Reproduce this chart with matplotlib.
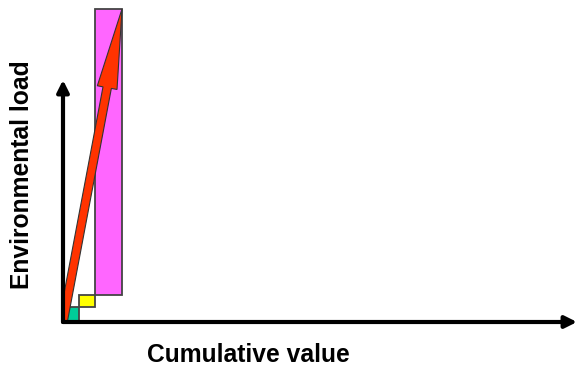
import matplotlib.pyplot as plt
from matplotlib.patches import Rectangle, FancyArrow

plt.rcParams['font.family'] = ['Liberation Sans', 'DejaVu Sans']

# stages: width = value added, height = environmental load added
stages = ['stage 1', 'stage 2', 'stage 3']
values = [16, 16, 27]
loads = [15, 12, 286]
colors = ['#00CC99', '#FFFF00', '#FF66FF']

fig = plt.figure(figsize=(5.77, 3.67), dpi=100)
ax = fig.add_axes([63 / 577, 45 / 367, 514 / 577, 322 / 367])
ax.set_xlim(0, 514)
ax.set_ylim(0, 322)
ax.axis('off')

x0, y0 = 0, 0
for v, l, c in zip(values, loads, colors):
    ax.add_patch(Rectangle((x0, y0), v, l, fc=c, ec='#444444', lw=1.3, zorder=2))
    x0 += v
    y0 += l

# cumulative arrow
ax.add_patch(FancyArrow(0, 0, x0, y0, width=8.5, head_width=20, head_length=80,
                        length_includes_head=True, fc='#FF3300', ec='#333333',
                        lw=0.8, zorder=3))

# axes with arrowheads
ax.annotate('', xy=(1.0, 0), xytext=(0, 0), xycoords='axes fraction',
            arrowprops=dict(arrowstyle='-|>,head_width=0.35,head_length=0.7',
                            lw=3, color='black', shrinkA=0, shrinkB=0))
ax.annotate('', xy=(0, 242 / 322), xytext=(0, 0), xycoords='axes fraction',
            arrowprops=dict(arrowstyle='-|>,head_width=0.35,head_length=0.7',
                            lw=3, color='black', shrinkA=0, shrinkB=0))

fig.text(248 / 577, 1 - 355 / 367, 'Cumulative value', ha='center', va='center',
         fontsize=17.7, fontweight='bold')
fig.text(22 / 577, 1 - 175 / 367, 'Environmental load', ha='center', va='center',
         rotation=90, fontsize=17.7, fontweight='bold')

fig.savefig('out.png', dpi=100)
